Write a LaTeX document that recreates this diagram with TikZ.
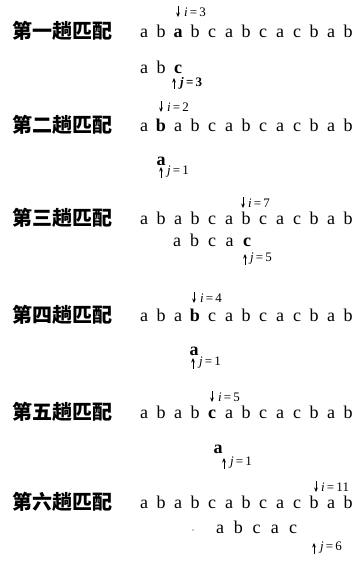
\documentclass[tikz,border=0pt]{standalone}
\usepackage{fontspec}
\setmainfont{Liberation Serif}
\newfontfamily\cjk{Noto Sans CJK SC}
\usetikzlibrary{arrows.meta}
\newcommand\eqlab[2]{\textit{#1}\,=\,#2}
\begin{document}
\begin{tikzpicture}[x=1pt,y=-1pt,
  lab/.style={anchor=west,inner sep=0pt,font=\cjk\bfseries\fontsize{20}{20}\selectfont},
  ch/.style={inner sep=0pt,font=\fontsize{18}{18}\selectfont},
  chb/.style={inner sep=0pt,font=\bfseries\fontsize{18}{18}\selectfont},
  idx/.style={anchor=west,inner sep=0pt,font=\fontsize{13}{13}\selectfont},
  idxb/.style={anchor=west,inner sep=0pt,font=\bfseries\fontsize{13}{13}\selectfont},
  ptr/.style={-{Stealth[length=4.5pt,width=3.8pt]},line width=1pt}]
\useasboundingbox (0,0) rectangle (362,566);
% ---------- row 1 ----------
\node[lab] (l1) at (12,31) {第一趟匹配};
\foreach \c [count=\k from 0] in {a,b,a,b,c,a,b,c,a,c,b,a,b}{
  \ifnum\k=2 \node[chb] (m1-\k) at ({144+17*\k},31) {\vphantom{b}\c};
  \else \node[ch] (m1-\k) at ({144+17*\k},31) {\vphantom{b}\c};\fi}
\node[idx] (i1) at (184,12) {\eqlab{i}{3}};
\coordinate (i1a) at (178,6);
\draw[ptr] (i1a) -- ++(0,11);
\foreach \c [count=\k from 0] in {a,b,c}{
  \ifnum\k=2 \node[chb] (p1-\k) at ({144+17*\k},67) {\vphantom{b}\c};
  \else \node[ch] (p1-\k) at ({144+17*\k},67) {\vphantom{b}\c};\fi}
\node[idxb] (j1) at (180,83) {\eqlab{j}{3}};
\coordinate (j1a) at (174,89);
\draw[ptr] (j1a) -- ++(0,-11);
% ---------- row 2 ----------
\node[lab] (l2) at (12,125) {第二趟匹配};
\foreach \c [count=\k from 0] in {a,b,a,b,c,a,b,c,a,c,b,a,b}{
  \ifnum\k=1 \node[chb] (m2-\k) at ({144+17*\k},125) {\vphantom{b}\c};
  \else \node[ch] (m2-\k) at ({144+17*\k},125) {\vphantom{b}\c};\fi}
\node[idx] (i2) at (167,107) {\eqlab{i}{2}};
\coordinate (i2a) at (161,101);
\draw[ptr] (i2a) -- ++(0,11);
\node[chb] (p2-0) at (161,159) {\vphantom{b}a};
\node[idx] (j2) at (167,172) {\eqlab{j}{1}};
\coordinate (j2a) at (161,178);
\draw[ptr] (j2a) -- ++(0,-11);
% ---------- row 3 ----------
\node[lab] (l3) at (12,218) {第三趟匹配};
\foreach \c [count=\k from 0] in {a,b,a,b,c,a,b,c,a,c,b,a,b}{
  \node[ch] (m3-\k) at ({144+17*\k},218) {\vphantom{b}\c};}
\node[idx] (i3) at (248,203) {\eqlab{i}{7}};
\coordinate (i3a) at (243,197);
\draw[ptr] (i3a) -- ++(0,11);
\foreach \c [count=\k from 0] in {a,b,c,a,c}{
  \ifnum\k=4 \node[chb] (p3-\k) at ({177+17.5*\k},240) {\vphantom{b}\c};
  \else \node[ch] (p3-\k) at ({177+17.5*\k},240) {\vphantom{b}\c};\fi}
\node[idx] (j3) at (250,259) {\eqlab{j}{5}};
\coordinate (j3a) at (245,265);
\draw[ptr] (j3a) -- ++(0,-11);
% ---------- row 4 ----------
\node[lab] (l4) at (12,315) {第四趟匹配};
\foreach \c [count=\k from 0] in {a,b,a,b,c,a,b,c,a,c,b,a,b}{
  \ifnum\k=3 \node[chb] (m4-\k) at ({144+17*\k},315) {\vphantom{b}\c};
  \else \node[ch] (m4-\k) at ({144+17*\k},315) {\vphantom{b}\c};\fi}
\node[idx] (i4) at (200,298) {\eqlab{i}{4}};
\coordinate (i4a) at (194,292);
\draw[ptr] (i4a) -- ++(0,11);
\node[chb] (p4-0) at (194,349) {\vphantom{b}a};
\node[idx] (j4) at (199,363) {\eqlab{j}{1}};
\coordinate (j4a) at (193,369);
\draw[ptr] (j4a) -- ++(0,-11);
% ---------- row 5 ----------
\node[lab] (l5) at (12,412) {第五趟匹配};
\foreach \c [count=\k from 0] in {a,b,a,b,c,a,b,c,a,c,b,a,b}{
  \ifnum\k=4 \node[chb] (m5-\k) at ({144+17*\k},412) {\vphantom{b}\c};
  \else \node[ch] (m5-\k) at ({144+17*\k},412) {\vphantom{b}\c};\fi}
\node[idx] (i5) at (218,397) {\eqlab{i}{5}};
\coordinate (i5a) at (212,391);
\draw[ptr] (i5a) -- ++(0,11);
\node[chb] (p5-0) at (218,447) {\vphantom{b}a};
\node[idx] (j5) at (230,463) {\eqlab{j}{1}};
\coordinate (j5a) at (224,469);
\draw[ptr] (j5a) -- ++(0,-11);
% ---------- row 6 ----------
\node[lab] (l6) at (12,502) {第六趟匹配};
\foreach \c [count=\k from 0] in {a,b,a,b,c,a,b,c,a,c,b,a,b}{
  \node[ch] (m6-\k) at ({144+17*\k},502) {\vphantom{b}\c};}
\node[idx] (i6) at (321,487) {\eqlab{i}{11}};
\coordinate (i6a) at (316,481);
\draw[ptr] (i6a) -- ++(0,11);
\foreach \c [count=\k from 0] in {a,b,c,a,c}{
  \node[ch] (p6-\k) at ({220+18.3*\k},527) {\vphantom{b}\c};}
\node[idx] (j6) at (320,548) {\eqlab{j}{6}};
\coordinate (j6a) at (314,554);
\draw[ptr] (j6a) -- ++(0,-11);
\fill (193,530) circle (0.7);
\end{tikzpicture}
\end{document}
